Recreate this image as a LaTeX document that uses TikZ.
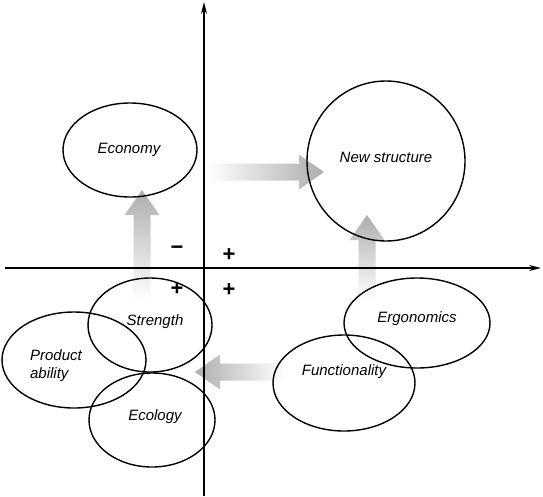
\documentclass[tikz,border=0pt]{standalone}
\usepackage{fontspec}
\setmainfont{Liberation Sans}
\usetikzlibrary{shapes.geometric,arrows.meta,calc}
\definecolor{arrowgray}{gray}{0.68}
\tikzset{
  bubble/.style={draw, ellipse, line width=1.4pt, inner sep=0pt},
  bubbletext/.style={font=\fontsize{15}{18}\selectfont\itshape, inner sep=0pt, align=left},
  sign/.style={font=\fontsize{22}{22}\selectfont\bfseries, inner sep=0pt},
}
\begin{document}
\begin{tikzpicture}[x=1pt, y=-1pt, line join=round, >={Stealth[length=12pt,width=6pt]}]
	\useasboundingbox (0,0) rectangle (543,496);
	\def\sw{8.5} \def\hw{17.5} \def\hl{25}
	% block arrows, drawn first so that the lines lie over them
	\coordinate (upLs) at (142,300); \coordinate (upLe) at (142,190);
	\coordinate (rts) at (207,172); \coordinate (rte) at (324,172);
	\coordinate (upRs) at (367,300); \coordinate (upRe) at (367,215);
	\coordinate (lfs) at (285,372); \coordinate (lfe) at (195,372);
	\shade[bottom color=white, top color=arrowgray] ($(upLs)+(-\sw,0)$) -- ($(upLe)+(-\sw,\hl)$) -- ($(upLe)+(-\hw,\hl)$) -- (upLe) -- ($(upLe)+(\hw,\hl)$) -- ($(upLe)+(\sw,\hl)$) -- ($(upLs)+(\sw,0)$) -- cycle;
	\shade[bottom color=white, top color=arrowgray] ($(upRs)+(-\sw,0)$) -- ($(upRe)+(-\sw,\hl)$) -- ($(upRe)+(-\hw,\hl)$) -- (upRe) -- ($(upRe)+(\hw,\hl)$) -- ($(upRe)+(\sw,\hl)$) -- ($(upRs)+(\sw,0)$) -- cycle;
	\shade[left color=white, right color=arrowgray] ($(rts)+(0,-\sw)$) -- ($(rte)+(-\hl,-\sw)$) -- ($(rte)+(-\hl,-\hw)$) -- (rte) -- ($(rte)+(-\hl,\hw)$) -- ($(rte)+(-\hl,\sw)$) -- ($(rts)+(0,\sw)$) -- cycle;
	\shade[left color=arrowgray, right color=white] ($(lfs)+(0,-\sw)$) -- ($(lfe)+(\hl,-\sw)$) -- ($(lfe)+(\hl,-\hw)$) -- (lfe) -- ($(lfe)+(\hl,\hw)$) -- ($(lfe)+(\hl,\sw)$) -- ($(lfs)+(0,\sw)$) -- cycle;
	% axes
	\coordinate (xl) at (5,268); \coordinate (xr) at (541,268);
	\coordinate (yb) at (204,496); \coordinate (yt) at (204,2);
	\draw[->, line width=1.2pt] (xl) -- (xr);
	\draw[->, line width=1.2pt] (yb) -- (yt);
	% ellipses
	\node[bubble, minimum width=134pt, minimum height=94pt, label={[bubbletext, xshift=-1pt]center:Economy}] (economy) at (130,150) {};
	\node[bubble, minimum width=158pt, minimum height=160pt, label={[bubbletext, yshift=4pt]center:New structure}] (newstruct) at (386,161) {};
	\node[bubble, minimum width=146pt, minimum height=90pt, label={[bubbletext, yshift=4pt]center:Ergonomics}] (ergo) at (417,323) {};
	\node[bubble, minimum width=142pt, minimum height=96pt, label={[bubbletext, yshift=11pt]center:Functionality}] (func) at (344,383) {};
	\node[bubble, minimum width=124pt, minimum height=94pt, label={[bubbletext, xshift=5pt, yshift=3pt]center:Strength}] (strength) at (150,325) {};
	\node[bubble, minimum width=144pt, minimum height=96pt, label={[bubbletext, xshift=-18pt, yshift=-6pt]center:Product\\ability}] (prod) at (74,360) {};
	\node[bubble, minimum width=126pt, minimum height=94pt, label={[bubbletext, xshift=3pt, yshift=3pt]center:Ecology}] (ecology) at (152,420) {};
	% signs of the quadrants
	\node[sign] (mNW) at (177,250) {−};
	\node[sign] (pNE) at (229,255) {+};
	\node[sign] (pSW) at (177,289) {+};
	\node[sign] (pSE) at (229,290) {+};
\end{tikzpicture}
\end{document}
